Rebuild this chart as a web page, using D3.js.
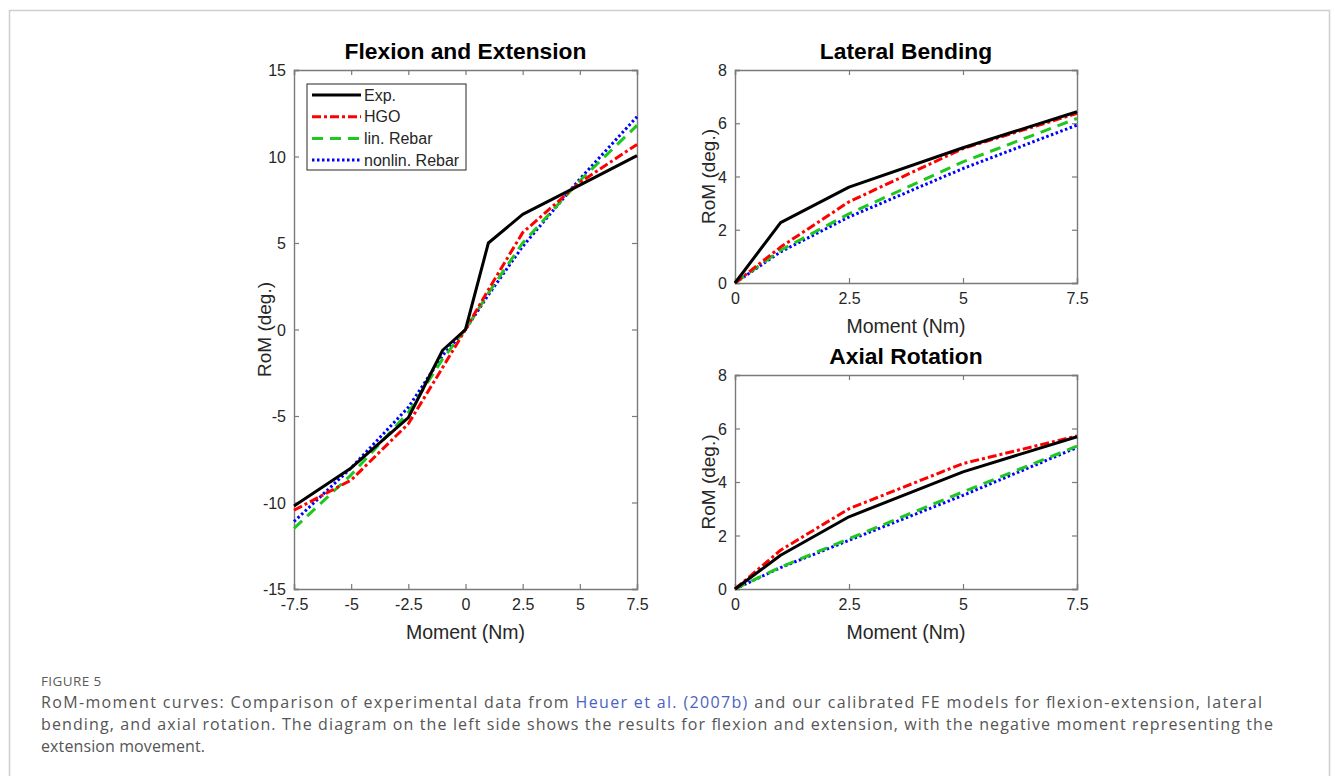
<!DOCTYPE html>
<html>
<head>
<meta charset="utf-8">
<script src="https://cdn.jsdelivr.net/npm/d3@7"></script>
<style>
  body { margin: 0; background: #fff; }
  svg text { font-family: "Liberation Sans", Arial, sans-serif; }
  .caption text { font-family: "Open Sans", "Noto Sans", sans-serif; }
</style>
</head>
<body>
<svg id="fig" width="1335" height="776"></svg>
<script>
// values
const seriesNames = ['Exp.', 'HGO', 'lin. Rebar', 'nonlin. Rebar'];

const flexMoment = [-7.5, -5, -2.5, -1, 0, 1, 2.5, 5, 7.5];
const flexExp = [-10.2, -8.0, -5.1, -1.2, 0, 5.0, 6.65, 8.35, 10.05];
const flexHGO = [-10.45, -8.7, -5.45, -2.2, 0, 2.3, 5.6, 8.5, 10.7];
const flexLin = [-11.5, -8.4, -4.8, -1.7, 0, 2.1, 5.0, 8.6, 11.8];
const flexNonlin = [-11.1, -8.0, -4.5, -1.5, 0, 2.0, 4.8, 8.7, 12.3];

const sideMoment = [0, 1, 2.5, 5, 7.5];
const latExp = [0, 2.27, 3.6, 5.08, 6.43];
const latHGO = [0, 1.35, 3.05, 5.05, 6.37];
const latLin = [0, 1.23, 2.6, 4.55, 6.18];
const latNonlin = [0, 1.17, 2.48, 4.3, 5.93];

const axExp = [0, 1.26, 2.7, 4.38, 5.69];
const axHGO = [0, 1.45, 3.0, 4.69, 5.72];
const axLin = [0, 0.82, 1.88, 3.63, 5.34];
const axNonlin = [0, 0.8, 1.82, 3.5, 5.29];

const flexXTicks = [-7.5, -5, -2.5, 0, 2.5, 5, 7.5];
const flexYTicks = [-15, -10, -5, 0, 5, 10, 15];
const sideXTicks = [0, 2.5, 5, 7.5];
const sideYTicks = [0, 2, 4, 6, 8];

const captionLines = [
    [['RoM-moment curves: Comparison of experimental data from ', false], ['Heuer et al. (2007b)', true], [' and our calibrated FE models for flexion-extension, lateral', false]],
    [['bending, and axial rotation. The diagram on the left side shows the results for flexion and extension, with the negative moment representing the', false]],
    [['extension movement.', false]]
];

const styles = [
    { color: '#000000', dash: null },
    { color: '#ff0000', dash: '9,3,3,3' },
    { color: '#1ec81e', dash: '11,7' },
    { color: '#0000ff', dash: '2.5,2.5' }
];

const svg = d3.select('#fig');

// page frame
svg.append('path')
    .attr('d', 'M9.5,776 V10.5 H1329.5 V776')
    .attr('fill', 'none')
    .attr('stroke', '#cfcfcf')
    .attr('stroke-width', 1.5);

function drawPanel(opts) {
    const { x0, x1, y0, y1, xDomain, yDomain, xTicks, yTicks, title, series, xVals } = opts;
    const x = d3.scaleLinear().domain(xDomain).range([x0, x1]);
    const y = d3.scaleLinear().domain(yDomain).range([y1, y0]);
    const g = svg.append('g');

    const axColor = '#7a7a7a';
    const fmt = d => String(d);

    const bottom = g.append('g').attr('transform', `translate(0,${y1})`)
        .call(d3.axisBottom(x).tickValues(xTicks).tickSize(-5).tickPadding(8).tickFormat(fmt));
    const top = g.append('g').attr('transform', `translate(0,${y0})`)
        .call(d3.axisTop(x).tickValues(xTicks).tickSize(-5).tickFormat(''));
    const left = g.append('g').attr('transform', `translate(${x0},0)`)
        .call(d3.axisLeft(y).tickValues(yTicks).tickSize(-5).tickPadding(8).tickFormat(fmt));
    const right = g.append('g').attr('transform', `translate(${x1},0)`)
        .call(d3.axisRight(y).tickValues(yTicks).tickSize(-5).tickFormat(''));

    [bottom, top, left, right].forEach(a => {
        a.select('.domain').attr('stroke', axColor).attr('stroke-width', 1.4);
        a.selectAll('.tick line').attr('stroke', axColor).attr('stroke-width', 1.2);
        a.selectAll('.tick text').attr('fill', '#262626').style('font-size', '16px');
    });
    bottom.selectAll('.tick text').attr('dy', '0.8em');
    left.selectAll('.tick text').attr('dy', '0.35em');

    g.append('text')
        .attr('x', (x0 + x1) / 2).attr('y', y0 - 11)
        .attr('text-anchor', 'middle')
        .style('font-size', '22.8px').style('font-weight', 'bold')
        .text(title);

    g.append('text')
        .attr('x', (x0 + x1) / 2).attr('y', y1 + 50)
        .attr('text-anchor', 'middle')
        .attr('fill', '#262626')
        .style('font-size', '19.5px')
        .text('Moment (Nm)');

    g.append('text')
        .attr('transform', `translate(${x0 - opts.ylabOff},${(y0 + y1) / 2}) rotate(-90)`)
        .attr('text-anchor', 'middle')
        .attr('fill', '#262626')
        .style('font-size', '19px')
        .text('RoM (deg.)');

    const line = d3.line().x(d => x(d[0])).y(d => y(d[1]));
    // draw from last to first so black stays on top
    series.map((vals, i) => ({ vals, i })).reverse().forEach(({ vals, i }) => {
        g.append('path')
            .datum(xVals.map((m, k) => [m, vals[k]]))
            .attr('d', line)
            .attr('fill', 'none')
            .attr('stroke', styles[i].color)
            .attr('stroke-width', 3)
            .attr('stroke-linejoin', 'round')
            .attr('stroke-dasharray', styles[i].dash);
    });
    return g;
}

const flexPanel = drawPanel({
    x0: 294, x1: 637, y0: 70, y1: 589,
    xDomain: [-7.5, 7.5], yDomain: [-15, 15],
    xTicks: flexXTicks, yTicks: flexYTicks,
    title: 'Flexion and Extension',
    series: [flexExp, flexHGO, flexLin, flexNonlin],
    xVals: flexMoment,
    ylabOff: 23
});

drawPanel({
    x0: 735, x1: 1077, y0: 70, y1: 283,
    xDomain: [0, 7.5], yDomain: [0, 8],
    xTicks: sideXTicks, yTicks: sideYTicks,
    title: 'Lateral Bending',
    series: [latExp, latHGO, latLin, latNonlin],
    xVals: sideMoment,
    ylabOff: 20.5
});

drawPanel({
    x0: 735, x1: 1077, y0: 375, y1: 589,
    xDomain: [0, 7.5], yDomain: [0, 8],
    xTicks: sideXTicks, yTicks: sideYTicks,
    title: 'Axial Rotation',
    series: [axExp, axHGO, axLin, axNonlin],
    xVals: sideMoment,
    ylabOff: 20.5
});

// legend
const leg = flexPanel.append('g').attr('transform', 'translate(307,84)');
leg.append('rect')
    .attr('width', 159).attr('height', 86)
    .attr('fill', '#fff').attr('stroke', '#262626').attr('stroke-width', 1);
seriesNames.forEach((name, i) => {
    const yy = 11 + i * 21.7;
    leg.append('line')
        .attr('x1', 5).attr('x2', 54).attr('y1', yy).attr('y2', yy)
        .attr('stroke', styles[i].color).attr('stroke-width', 3)
        .attr('stroke-dasharray', styles[i].dash);
    leg.append('text')
        .attr('x', 57).attr('y', yy).attr('dy', '0.35em')
        .attr('fill', '#262626')
        .style('font-size', '16px')
        .text(name);
});

// caption
const cap = svg.append('g').attr('class', 'caption');
cap.append('text')
    .attr('x', 41).attr('y', 686)
    .attr('fill', '#5a5a5a')
    .style('font-size', '13.5px')
    .style('letter-spacing', '0.4px')
    .text('FIGURE 5');
// right ends of the caption lines in the reference
const captionEnds = [1262, 1273, 205];
captionLines.forEach((parts, i) => {
    const t = cap.append('text')
        .attr('x', 41).attr('y', 708 + i * 22)
        .attr('fill', '#555')
        .style('font-size', '16px')
        .attr('textLength', captionEnds[i] - 41)
        .attr('lengthAdjust', 'spacing');
    parts.forEach(([s, link]) => {
        t.append('tspan').attr('fill', link ? '#4a62c4' : '#555').text(s);
    });
});
</script>
</body>
</html>
